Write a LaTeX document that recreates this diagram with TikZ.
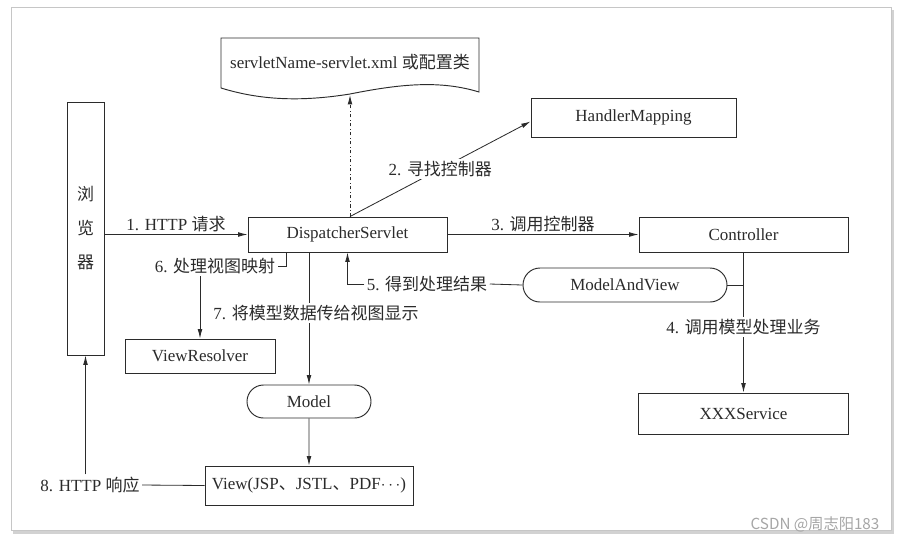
\documentclass[tikz,border=0pt]{standalone}
\usepackage{fontspec}
\setmainfont{Liberation Serif}
\newfontfamily\cjk{Noto Sans CJK SC}
\usetikzlibrary{shapes.misc, arrows.meta, calc}
\definecolor{ink}{HTML}{2B2B2B}

\begin{document}
\begin{tikzpicture}[x=0.03cm, y=-0.03cm, font=\fontsize{14.5}{17}\selectfont, text=ink, >={Latex[length=8pt,width=4pt]}]
        \tikzstyle{box} = [rectangle, draw=ink, line width=0.8pt, inner sep=0pt, text centered]
        \tikzstyle{pill} = [rounded rectangle, draw=ink, line width=0.8pt, inner sep=0pt]
        \tikzstyle{lbl} = [inner sep=2pt]
        \tikzstyle{link} = [draw=ink, line width=0.7pt]
        \useasboundingbox (0,0) rectangle (903,546);
        % photo frame
        \fill[gray!35] (13,10) rectangle (894,534);
        \draw[gray!45, fill=white, line width=0.6pt] (11,7) rectangle (891,530);
        % config document
        \draw[link, line width=0.8pt] (221,38) -- (479,38) -- (479,92) .. controls (440,80) and (400,84) .. (350,94) .. controls (300,102) and (260,100) .. (221,88) -- cycle;
        \node (conf) at (350,62) {servletName-servlet.xml {\cjk 或配置类}};
        \coordinate (confb) at (350,95);
        % boxes
        \node (browser) [box, minimum width=1.11cm, minimum height=7.59cm, align=center, font=\cjk\fontsize{14.5}{29}\selectfont] at (85.5,228.5) {浏\\览\\器};
        \node (ds) [box, minimum width=5.97cm, minimum height=1.05cm] at (347.5,234.5) {DispatcherServlet};
        \node (hm) [box, minimum width=6.15cm, minimum height=1.17cm] at (633.5,117.5) {HandlerMapping};
        \node (ctrl) [box, minimum width=6.27cm, minimum height=1.05cm] at (743.5,234.5) {Controller};
        \node (mav) [pill, minimum width=6.12cm, minimum height=1.02cm] at (625,285) {ModelAndView};
        \node (svc) [box, minimum width=6.3cm, minimum height=1.23cm] at (743.5,413.5) {XXXService};
        \node (vr) [box, minimum width=4.5cm, minimum height=1.02cm] at (200,356) {ViewResolver};
        \node (model) [pill, minimum width=3.72cm, minimum height=0.99cm] at (309,401.5) {Model};
        \node (view) [box, minimum width=6.24cm, minimum height=1.17cm] at (309,485.5) {View(JSP{\cjk 、}JSTL{\cjk 、}PDF$\cdots$)};
        % connectors
        \draw [link, ->, dash dot] (confb |- ds.north) -- (confb);
        \draw [link, ->] (browser.east |- ds.west) -- node[lbl, above] {1. HTTP {\cjk 请求}} (ds.west);
        \draw [link, ->] (confb |- ds.north) -- node[lbl, fill=white] {2. {\cjk 寻找控制器}} ($(hm.west)+(0,4)$);
        \draw [link, ->] (ds.east) -- node[lbl, above] {3. {\cjk 调用控制器}} (ctrl.west);
        \draw [link, ->] (ctrl.south) -- node[lbl, fill=white, pos=0.53] {4. {\cjk 调用模型处理业务}} (svc.north);
        \draw [link] (mav.east) -- (mav.east -| ctrl.south);
        \node (l5) [lbl] at (427,284) {5. {\cjk 得到处理结果}};
        \draw [link] (mav.west) -- (l5.east);
        \draw [link, ->] (l5.west) -| (ds.south);
        \node (l6) [lbl] at (215,266) {6. {\cjk 处理视图映射}};
        \draw [link] ($(ds.south west)+(39,0)$) |- (l6.east);
        \draw [link, ->] (l6.south -| vr.north) -- (vr.north);
        \draw [link, ->] (model.north |- ds.south) -- node[lbl, fill=white, pos=0.46, xshift=6pt] {7. {\cjk 将模型数据传给视图显示}} (model.north);
        \draw [link, ->] (model) -- (view);
        \node (l8) [lbl] at (90,485) {8. HTTP {\cjk 响应}};
        \draw [link] (view.west) -- (l8.east);
        \draw [link, ->] (l8.north -| browser.south) -- (browser.south);
        % watermark
        \node (mark) [text=gray!70, font=\cjk\fontsize{13}{15}\selectfont] at (815,524) {CSDN @周志阳183};
    \end{tikzpicture}
\end{document}
